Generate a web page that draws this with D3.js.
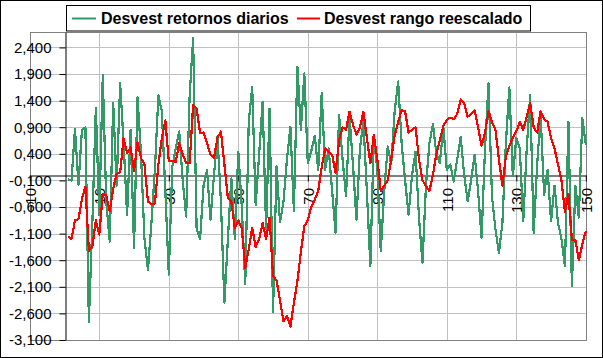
<!DOCTYPE html>
<html><head><meta charset="utf-8">
<script src="https://cdn.jsdelivr.net/npm/d3@7"></script>
<style>body{margin:0;background:#fff}svg{display:block}text{font-family:Arial,"Liberation Sans",sans-serif}</style>
</head><body><svg id="c" width="603" height="358"></svg>
<script>
// Desvest retornos diarios (points 1..150)
const retornos = [
-0.08,-0.1,0.87,-0.18,0.85,0.9,-2.76,-0.9,1.27,-0.75,
1.88,-0.5,-1.25,1.36,-0.2,1.73,0.6,-0.75,0.85,-1.37,
1.47,0.4,-1.2,-1.78,-0.9,0.1,1.5,1.2,-0.3,-1.87,
0.16,0.5,0.82,-0.1,-0.78,1.5,2.57,-1.0,-1.2,-0.2,
0.1,-0.84,0.0,0.72,-0.5,-2.4,-1.2,-0.06,-1.2,0.44,
-0.6,-2.05,1.0,1.66,-0.56,0.4,1.38,-1.02,1.25,-2.58,
0.16,-0.89,-0.5,0.3,0.91,-0.68,2.04,0.85,1.91,0.22,
0.45,0.74,0.1,1.54,0.1,0.5,-0.3,-1.08,1.13,0.3,
-0.4,1.1,0.2,-0.84,0.5,1.0,-0.3,-1.71,0.73,0.1,
-1.43,-0.3,0.54,0.2,1.2,1.76,0.6,-0.1,-0.75,0.0,
0.44,-0.8,-1.65,-0.2,0.6,0.96,0.4,0.22,0.91,0.1,
0.2,-0.12,0.3,0.72,0.0,-0.49,-0.1,0.38,-0.3,-1.18,
0.5,1.72,-0.4,-1.02,-1.46,-0.9,0.6,1.65,-0.02,0.7,
0.5,-0.87,0.5,1.5,-1.09,0.2,1.13,-0.37,0.1,-0.87,
-0.2,-0.9,-1.2,-1.71,1.0,-2.09,-0.2,-0.8,1.07,0.57];
// Desvest rango reescalado (points 1..150)
const rango = [
-1.15,-1.2,-0.85,-0.83,-0.45,-0.22,-1.42,-1.35,-0.85,-1.12,
-0.35,-0.38,-0.68,-0.25,0.02,0.05,0.69,0.42,0.52,0.08,
0.62,0.32,0.2,-0.5,-0.55,-0.53,0.2,0.7,1.03,0.26,
0.27,0.25,0.6,0.4,0.22,0.22,1.32,1.25,0.79,0.8,
0.6,0.38,0.32,0.7,0.82,0.2,-0.43,-0.5,-1.0,-0.85,
-1.0,-1.74,-1.4,-0.99,-1.35,-1.2,-0.9,-1.2,-0.8,-1.9,
-1.98,-2.35,-2.75,-2.65,-2.85,-2.4,-2.0,-1.45,-0.96,-0.85,
-0.6,-0.46,-0.3,0.15,0.5,0.44,0.38,0.05,0.65,0.9,
0.85,1.19,0.95,0.76,0.9,1.19,0.7,0.22,0.76,0.3,
-0.3,-0.2,-0.1,0.3,0.75,1.0,1.22,1.2,0.8,0.85,
0.9,0.3,-0.1,-0.2,-0.3,0.0,0.4,0.66,0.92,1.04,
1.08,1.05,1.15,1.42,1.35,1.1,1.15,1.22,0.9,0.55,
0.8,1.2,1.0,0.85,0.3,-0.2,0.35,0.55,0.7,0.82,
1.0,0.85,1.1,1.35,0.9,0.8,1.2,1.05,1.0,0.7,
0.5,0.2,-0.1,-0.7,-0.35,-1.22,-1.22,-1.6,-1.3,-1.05];
const xTicks = [-10,10,30,50,70,90,110,130,150];
const yTicks = [2.4,1.9,1.4,0.9,0.4,-0.1,-0.6,-1.1,-1.6,-2.1,-2.6,-3.1];
const yTickLabels = ["2,400","1,900","1,400","0,900","0,400","-0,100","-0,600","-1,100","-1,600","-2,100","-2,600","-3,100"];
const seriesNames = ["Desvest retornos diarios","Desvest rango reescalado"];
const seriesColors = ["#339966","#ff0000"];

const svg = d3.select("#c");
const L = 29.8, R = 585.8, T = 32, B = 340;
const x = d3.scaleLinear().domain([-10,150]).range([L,R]);
const y = d3.scaleLinear().domain([-3.1,2.69]).range([B,T]);

svg.append("rect").attr("x",0.5).attr("y",0.5).attr("width",602).attr("height",357)
  .attr("fill","#fff").attr("stroke","#000");

// plot area
svg.append("rect").attr("x",L).attr("y",T).attr("width",R-L).attr("height",B-T).attr("fill","#fff");
const grid = svg.append("g").attr("stroke","#c0c0c0").attr("stroke-width",1);
grid.selectAll(".h").data(yTicks).join("line")
  .attr("x1",L).attr("x2",R).attr("y1",d=>Math.round(y(d))+0.5).attr("y2",d=>Math.round(y(d))+0.5);
grid.selectAll(".v").data(xTicks).join("line")
  .attr("y1",T).attr("y2",B).attr("x1",d=>Math.round(x(d))+0.5).attr("x2",d=>Math.round(x(d))+0.5);
svg.append("rect").attr("x",Math.round(L)+0.5).attr("y",Math.round(T)+0.5)
  .attr("width",Math.round(R)-Math.round(L)).attr("height",Math.round(B)-Math.round(T))
  .attr("fill","none").attr("stroke","#808080");

// axes
const x0 = Math.round(x(0))+0.5, y0 = Math.round(y(0))+0.5;
const yAxis = svg.append("g").attr("transform",`translate(${x0},0)`)
  .call(d3.axisLeft(y).tickValues(yTicks).tickFormat((d,i)=>yTickLabels[i]).tickSize(6).tickSizeOuter(0).tickPadding(8));
yAxis.select(".domain").attr("stroke","#000");
yAxis.selectAll("line").attr("stroke","#000");
yAxis.selectAll("text").attr("font-size",15).attr("font-family","Arial, 'Liberation Sans', sans-serif").attr("fill","#000");

const xAxis = svg.append("g").attr("transform",`translate(0,${y0})`)
  .call(d3.axisBottom(x).tickValues(xTicks).tickSize(6).tickSizeOuter(0));
xAxis.select(".domain").attr("stroke","#000");
xAxis.selectAll("line").attr("stroke","#000");
xAxis.selectAll("text").attr("font-size",15).attr("font-family","Arial, 'Liberation Sans', sans-serif").attr("fill","#000")
  .attr("transform","rotate(-90)").attr("x",-12.5).attr("y",0).attr("dy","0.35em").style("text-anchor","end");

// series
const line = d3.line().x((d,i)=>x(i+1)).y(d=>y(d));
[retornos, rango].forEach((s,k)=>{
  svg.append("path").datum(s).attr("d",line).attr("fill","none")
    .attr("stroke",seriesColors[k]).attr("stroke-width",2.2).attr("stroke-linejoin","round")
    .attr("shape-rendering","crispEdges");
});

// legend
const lg = svg.append("g");
lg.append("rect").attr("x",66.5).attr("y",5.5).attr("width",464).attr("height",25.5)
  .attr("fill","#fff").attr("stroke","#000");
const lx = [[72,96,101],[297,320,324]];
seriesNames.forEach((n,k)=>{
  lg.append("line").attr("x1",lx[k][0]).attr("x2",lx[k][1]).attr("y1",18.5).attr("y2",18.5)
    .attr("stroke",seriesColors[k]).attr("stroke-width",2);
  lg.append("text").attr("x",lx[k][2]).attr("y",24).attr("font-size",16).attr("font-weight","bold")
    .attr("fill","#000").text(n);
});
</script></body></html>
